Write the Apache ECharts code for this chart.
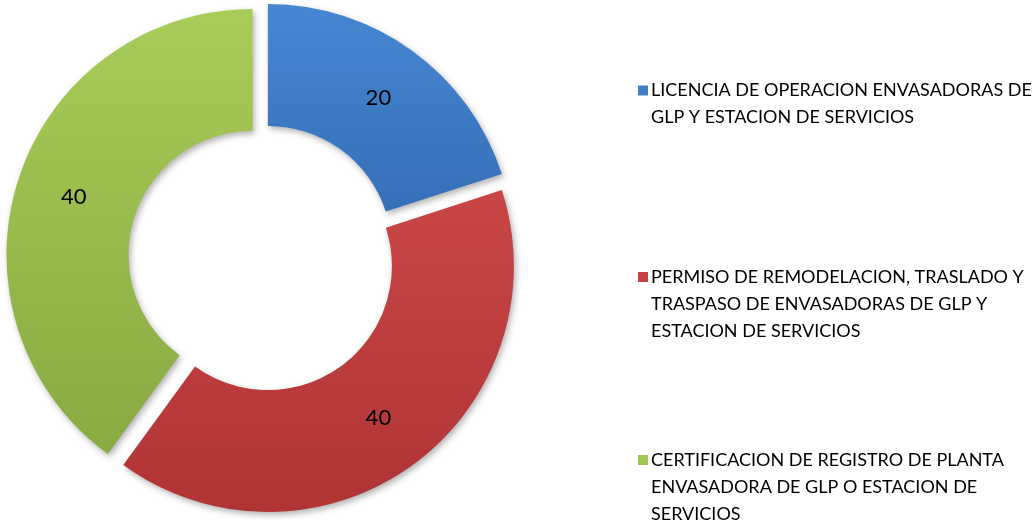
<!DOCTYPE html>
<html>
<head>
<meta charset="utf-8">
<script src="https://cdn.jsdelivr.net/npm/echarts@6/dist/echarts.min.js"></script>
<style>
html, body { margin: 0; padding: 0; background: #fff; }
#main { width: 1036px; height: 520px; }
</style>
</head>
<body>
<div id="main"></div>
<script>
var categories = [
    'LICENCIA DE OPERACION ENVASADORAS DE\nGLP Y ESTACION DE SERVICIOS',
    'PERMISO DE REMODELACION, TRASLADO Y\nTRASPASO DE ENVASADORAS DE GLP Y\nESTACION DE SERVICIOS',
    'CERTIFICACION DE REGISTRO DE PLANTA\nENVASADORA DE GLP O ESTACION DE\nSERVICIOS'
];
var values = [20, 40, 40];
var colorsTop = ['#4686d2', '#c94646', '#a8cc58'];
var colorsBottom = ['#3670b8', '#b03434', '#88aa42'];

var chart = echarts.init(document.getElementById('main'));

// icono cuadrado desplazado para alinearlo con la primera linea del texto
function iconFor(name) {
    var lines = name.split('\n').length;
    var y = 45 - (lines - 1) * 13.5 - 5;
    return 'path://M0,0L0.01,0M10,90L9.99,90M0,' + y + 'h10v10h-10z';
}

var legendTops = [54, 254, 437];
var legends = [];
var pieData = [];
for (var i = 0; i < categories.length; i++) {
    legends.push({
        left: 633,
        top: legendTops[i],
        orient: 'vertical',
        selectedMode: false,
        itemWidth: 10,
        itemHeight: 90,
        itemGap: 0,
        data: [{ name: categories[i], icon: iconFor(categories[i]) }],
        textStyle: {
            fontFamily: 'Lato',
            fontSize: 18,
            lineHeight: 27,
            color: '#000',
            padding: [0, 0, 0, -2]
        }
    });
    pieData.push({
        name: categories[i],
        value: values[i],
        selected: true,
        itemStyle: {
            color: new echarts.graphic.LinearGradient(0, 0, 0, 1, [
                { offset: 0, color: colorsTop[i] },
                { offset: 1, color: colorsBottom[i] }
            ])
        }
    });
}

var option = {
    animation: false,
    legend: legends,
    series: [{
        type: 'pie',
        center: [262, 258],
        radius: [124, 246],
        startAngle: 90,
        clockwise: true,
        selectedMode: 'multiple',
        selectedOffset: 10,
        avoidLabelOverlap: false,
        itemStyle: {
            shadowBlur: 6,
            shadowOffsetX: 2,
            shadowOffsetY: 3,
            shadowColor: 'rgba(0,0,0,0.3)'
        },
        label: {
            show: true,
            position: 'inside',
            formatter: '{c}',
            fontFamily: 'Lato',
            fontSize: 22,
            color: '#000'
        },
        labelLine: { show: false },
        emphasis: { disabled: true },
        data: pieData
    }]
};
chart.setOption(option);
</script>
</body>
</html>
